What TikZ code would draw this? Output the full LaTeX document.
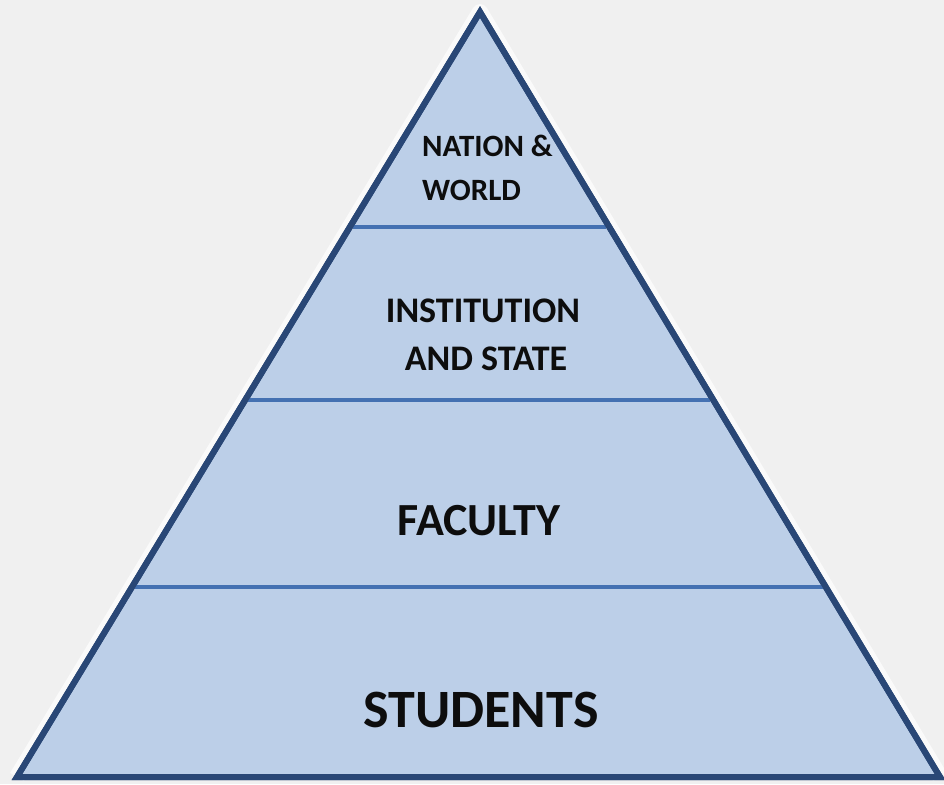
\documentclass[tikz,border=0pt]{standalone}
\usepackage{fontspec}
\setmainfont{Carlito}
\usetikzlibrary{calc}
\definecolor{bggray}{HTML}{F0F0F0}
\definecolor{pyrfill}{HTML}{BCCFE8}
\definecolor{pyrline}{HTML}{294776}
\definecolor{divline}{HTML}{4471B2}
\definecolor{txt}{HTML}{0D0D0D}
\tikzset{
  outline/.style={draw=pyrline, line width=6pt, fill=pyrfill, line join=miter},
  halo/.style={draw=white, line width=16pt, opacity=0.7, line join=round},
  divider/.style={draw=divline, line width=3.2pt},
  lbl/.style={text=txt, font=\bfseries, inner sep=0pt, anchor=base},
}
\begin{document}
\begin{tikzpicture}[x=1pt,y=-1pt]
\fill[bggray] (0,0) rectangle (944,784);
\useasboundingbox (0,0) rectangle (944,784);
\coordinate (apex) at (480,12);
\coordinate (bl) at (17,777);
\coordinate (br) at (940,777);
\draw[halo] (bl) -- (apex) -- (br);
\draw[outline] (apex) -- (bl) -- (br) -- cycle;
\coordinate (d1l) at ($(apex)!0.281!(bl)$);
\coordinate (d1r) at ($(apex)!0.281!(br)$);
\coordinate (d2l) at ($(apex)!0.5072!(bl)$);
\coordinate (d2r) at ($(apex)!0.5072!(br)$);
\coordinate (d3l) at ($(apex)!0.7516!(bl)$);
\coordinate (d3r) at ($(apex)!0.7516!(br)$);
\draw[divider] ($(d1l)+(3,0)$) -- ($(d1r)+(-3,0)$);
\draw[divider] ($(d2l)+(3,0)$) -- ($(d2r)+(-3,0)$);
\draw[divider] ($(d3l)+(3,0)$) -- ($(d3r)+(-3,0)$);
\draw[pyrline, line width=6pt, line join=miter] (apex) -- (bl) -- (br) -- cycle;
\node[lbl, anchor=base west, font=\bfseries\fontsize{31}{37}\selectfont] (nation) at (422,156) {NATION \&};
\node[lbl, anchor=base west, font=\bfseries\fontsize{31}{37}\selectfont] (world) at (422,200) {WORLD};
\node[lbl, font=\bfseries\fontsize{36}{43}\selectfont] (inst) at (483,322) {INSTITUTION};
\node[lbl, font=\bfseries\fontsize{36}{43}\selectfont] (state) at (486,370) {AND STATE};
\node[lbl, font=\bfseries\fontsize{46}{55}\selectfont] (faculty) at (479,535) {FACULTY};
\node[lbl, font=\bfseries\fontsize{54}{65}\selectfont] (students) at (481,727) {STUDENTS};
\end{tikzpicture}
\end{document}
